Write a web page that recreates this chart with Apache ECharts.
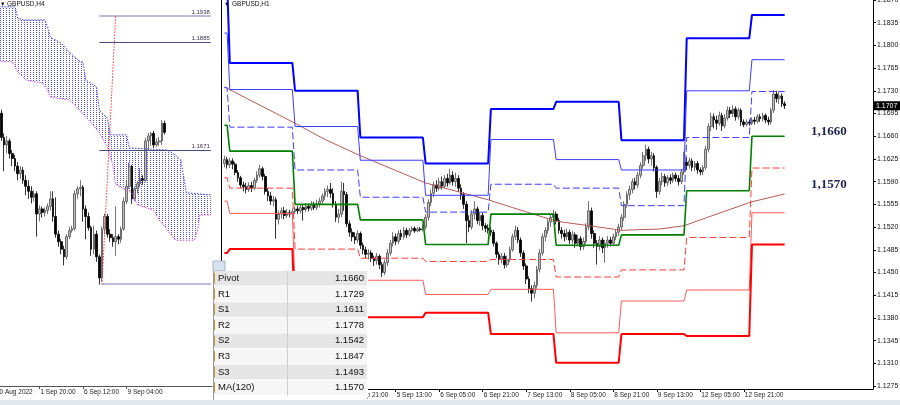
<!DOCTYPE html>
<html><head><meta charset="utf-8">
<script src="https://cdn.jsdelivr.net/npm/echarts@6/dist/echarts.min.js"></script>
<style>html,body{margin:0;padding:0;background:#fff}#c{width:900px;height:405px}</style>
</head><body><div id="c"></div>
<script>
// ================= LEFT PANEL: GBPUSD,H4 =================
const h4Slots = 78;
const h4TickIdx = [0, 14, 30, 46];
const h4TickLabels = ['30 Aug 2022', '1 Sep 20:00', '6 Sep 12:00', '9 Sep 04:00'];
// [open, close, low, high]
const h4Ohlc = [
[1.1745,1.1697,1.1690,1.1752],[1.1697,1.1682,1.1630,1.1705],
[1.1682,1.1690,1.1665,1.1700],[1.1690,1.1665,1.1655,1.1695],[1.1665,1.1655,1.1640,1.1672],[1.1655,1.1640,1.1630,1.1662],
[1.1640,1.1625,1.1612,1.1648],[1.1625,1.1632,1.1615,1.1640],[1.1632,1.1612,1.1605,1.1638],[1.1612,1.1600,1.1582,1.1622],
[1.1600,1.1590,1.1575,1.1612],[1.1590,1.1578,1.1566,1.1600],[1.1578,1.1585,1.1570,1.1592],[1.1585,1.1545,1.1500,1.1590],
[1.1545,1.1555,1.1530,1.1562],[1.1555,1.1548,1.1538,1.1560],[1.1548,1.1552,1.1540,1.1558],[1.1552,1.1560,1.1545,1.1566],
[1.1560,1.1575,1.1552,1.1590],[1.1575,1.1540,1.1530,1.1590],[1.1540,1.1505,1.1498,1.1578],[1.1505,1.1490,1.1480,1.1512],
[1.1490,1.1475,1.1465,1.1495],[1.1475,1.1460,1.1443,1.1482],[1.1460,1.1500,1.1455,1.1505],[1.1500,1.1512,1.1495,1.1520],
[1.1512,1.1516,1.1508,1.1522],[1.1516,1.1585,1.1512,1.1592],[1.1585,1.1595,1.1575,1.1600],[1.1595,1.1598,1.1580,1.1612],
[1.1598,1.1555,1.1530,1.1602],[1.1555,1.1540,1.1495,1.1562],[1.1540,1.1518,1.1512,1.1548],[1.1518,1.1475,1.1462,1.1522],
[1.1475,1.1505,1.1465,1.1522],[1.1505,1.1460,1.1450,1.1512],[1.1460,1.1418,1.1405,1.1465],[1.1418,1.1515,1.1410,1.1520],
[1.1515,1.1540,1.1505,1.1546],[1.1540,1.1505,1.1498,1.1545],[1.1505,1.1498,1.1490,1.1515],[1.1498,1.1490,1.1480,1.1505],
[1.1490,1.1500,1.1462,1.1560],[1.1500,1.1495,1.1485,1.1505],[1.1495,1.1515,1.1488,1.1520],[1.1515,1.1570,1.1512,1.1578],
[1.1570,1.1600,1.1565,1.1612],[1.1600,1.1640,1.1595,1.1647],[1.1640,1.1575,1.1565,1.1642],[1.1575,1.1595,1.1570,1.1600],
[1.1595,1.1605,1.1585,1.1610],[1.1605,1.1615,1.1598,1.1636],[1.1615,1.1612,1.1603,1.1622],[1.1612,1.1690,1.1608,1.1696],
[1.1690,1.1700,1.1672,1.1706],[1.1700,1.1705,1.1680,1.1708],[1.1705,1.1682,1.1676,1.1710],[1.1682,1.1688,1.1678,1.1695],
[1.1688,1.1690,1.1680,1.1698],[1.1690,1.1725,1.1682,1.1731],[1.1725,1.1707,1.1703,1.1730]
];
// Ichimoku cloud edges [slot, price]
const cloudTop = [[0,1.1956],[5,1.1956],[6,1.1934],[8,1.1930],[16,1.1930],[17,1.1916],[18,1.1896],[22,1.1884],
  [25,1.1866],[29,1.1847],[30,1.1847],[31,1.1811],[35,1.1797],[36,1.1751],[39,1.1735],[40,1.1702],[46,1.1702],
  [47,1.1676],[61,1.1672],[64,1.1662],[66,1.1652],[68,1.1587],[77,1.1583]];
const cloudBot = [[0,1.1847],[4,1.1847],[6,1.1827],[9,1.1811],[15,1.1805],[17,1.1791],[18,1.1777],[25,1.1771],
  [27,1.1761],[33,1.1726],[36,1.1706],[39,1.1678],[41,1.1642],[42,1.1603],[48,1.1587],[50,1.1563],[56,1.1553],
  [58,1.1533],[61,1.1513],[64,1.1493],[71,1.1493],[72,1.1509],[73,1.1543],[77,1.1543]];
const h4Levels = [1.1938, 1.1885, 1.1671, 1.1406];
const h4LevelStart = [36, 36, 36, 37];
const h4LevelLabel = [true, true, true, false];
const h4Trend = [[37, 1.1405], [42, 1.1938]];

// ================= RIGHT PANEL: GBPUSD,H1 =================
const h1Slots = 239;
const h1TickIdx = [47, 63, 79, 95, 111, 127, 143, 159, 175, 191];
const h1TickLabels = ['2 Sep 21:00','5 Sep 13:00','6 Sep 05:00','6 Sep 21:00','7 Sep 13:00','8 Sep 05:00','8 Sep 21:00','9 Sep 13:00','12 Sep 05:00','12 Sep 21:00'];
const h1Ohlc = [
[1.1618,1.1624,1.1612,1.1630],[1.1624,1.1616,1.1610,1.1628],[1.1616,1.1622,1.1611,1.1627],[1.1622,1.1617,1.1609,1.1626],
[1.1617,1.1604,1.1600,1.1620],[1.1604,1.1596,1.1590,1.1608],[1.1596,1.1585,1.1580,1.1599],[1.1585,1.1582,1.1575,1.1590],
[1.1582,1.1578,1.1572,1.1588],[1.1578,1.1584,1.1574,1.1589],[1.1584,1.1580,1.1574,1.1590],[1.1580,1.1592,1.1577,1.1596],
[1.1592,1.1600,1.1588,1.1606],[1.1600,1.1610,1.1596,1.1616],[1.1610,1.1598,1.1592,1.1613],[1.1598,1.1575,1.1570,1.1602],
[1.1575,1.1568,1.1560,1.1580],[1.1568,1.1560,1.1554,1.1574],[1.1560,1.1562,1.1552,1.1568],[1.1562,1.1532,1.1502,1.1566],
[1.1532,1.1540,1.1524,1.1546],[1.1540,1.1545,1.1533,1.1550],[1.1545,1.1538,1.1532,1.1551],[1.1538,1.1542,1.1534,1.1548],
[1.1542,1.1540,1.1535,1.1547],[1.1540,1.1544,1.1536,1.1549],[1.1544,1.1548,1.1540,1.1552],[1.1548,1.1545,1.1540,1.1553],
[1.1545,1.1550,1.1541,1.1555],[1.1550,1.1547,1.1530,1.1556],[1.1547,1.1552,1.1543,1.1557],[1.1552,1.1549,1.1544,1.1556],
[1.1549,1.1555,1.1545,1.1560],[1.1555,1.1550,1.1546,1.1559],[1.1550,1.1556,1.1546,1.1562],[1.1556,1.1560,1.1550,1.1565],
[1.1560,1.1568,1.1556,1.1572],[1.1568,1.1575,1.1562,1.1580],[1.1575,1.1578,1.1566,1.1584],[1.1578,1.1572,1.1565,1.1588],
[1.1572,1.1555,1.1550,1.1580],[1.1555,1.1535,1.1528,1.1560],[1.1535,1.1540,1.1526,1.1548],[1.1540,1.1575,1.1535,1.1590],
[1.1575,1.1570,1.1545,1.1588],[1.1570,1.1525,1.1520,1.1574],[1.1525,1.1512,1.1505,1.1530],[1.1512,1.1505,1.1498,1.1518],
[1.1505,1.1500,1.1494,1.1512],[1.1500,1.1510,1.1496,1.1515],[1.1510,1.1492,1.1486,1.1513],[1.1492,1.1485,1.1478,1.1496],
[1.1485,1.1478,1.1472,1.1490],[1.1478,1.1480,1.1470,1.1486],[1.1480,1.1472,1.1466,1.1484],[1.1472,1.1468,1.1460,1.1476],
[1.1468,1.1475,1.1462,1.1480],[1.1475,1.1462,1.1455,1.1478],[1.1462,1.1450,1.1443,1.1466],[1.1450,1.1465,1.1446,1.1470],
[1.1465,1.1480,1.1460,1.1486],[1.1480,1.1495,1.1476,1.1500],[1.1495,1.1505,1.1490,1.1512],[1.1505,1.1498,1.1492,1.1510],
[1.1498,1.1510,1.1494,1.1515],[1.1510,1.1505,1.1500,1.1516],[1.1505,1.1515,1.1501,1.1520],[1.1515,1.1508,1.1503,1.1519],
[1.1508,1.1515,1.1505,1.1519],[1.1515,1.1518,1.1512,1.1521],[1.1518,1.1514,1.1511,1.1521],[1.1514,1.1517,1.1512,1.1520],
[1.1517,1.1516,1.1513,1.1520],[1.1516,1.1520,1.1513,1.1524],[1.1520,1.1535,1.1516,1.1540],[1.1535,1.1558,1.1530,1.1563],
[1.1558,1.1572,1.1552,1.1578],[1.1572,1.1585,1.1566,1.1590],[1.1585,1.1580,1.1574,1.1592],[1.1580,1.1590,1.1576,1.1596],
[1.1590,1.1583,1.1578,1.1598],[1.1583,1.1595,1.1580,1.1600],[1.1595,1.1588,1.1582,1.1602],[1.1588,1.1600,1.1585,1.1610],
[1.1600,1.1590,1.1584,1.1606],[1.1590,1.1595,1.1582,1.1604],[1.1595,1.1580,1.1574,1.1600],[1.1580,1.1570,1.1562,1.1586],
[1.1570,1.1555,1.1548,1.1574],[1.1555,1.1530,1.1495,1.1560],[1.1530,1.1520,1.1512,1.1538],[1.1520,1.1540,1.1516,1.1546],
[1.1540,1.1548,1.1532,1.1560],[1.1548,1.1530,1.1524,1.1552],[1.1530,1.1538,1.1522,1.1544],[1.1538,1.1522,1.1515,1.1542],
[1.1522,1.1518,1.1512,1.1526],[1.1518,1.1515,1.1510,1.1524],[1.1515,1.1512,1.1506,1.1520],[1.1512,1.1495,1.1490,1.1516],
[1.1495,1.1478,1.1472,1.1498],[1.1478,1.1470,1.1462,1.1482],[1.1470,1.1475,1.1464,1.1480],[1.1475,1.1462,1.1456,1.1480],
[1.1462,1.1470,1.1458,1.1476],[1.1470,1.1485,1.1466,1.1490],[1.1485,1.1505,1.1482,1.1510],[1.1505,1.1515,1.1500,1.1522],
[1.1515,1.1500,1.1495,1.1520],[1.1500,1.1480,1.1474,1.1504],[1.1480,1.1460,1.1454,1.1484],[1.1460,1.1440,1.1432,1.1464],
[1.1440,1.1425,1.1418,1.1444],[1.1425,1.1418,1.1405,1.1430],[1.1418,1.1430,1.1410,1.1436],[1.1430,1.1455,1.1425,1.1460],
[1.1455,1.1480,1.1450,1.1486],[1.1480,1.1505,1.1476,1.1510],[1.1505,1.1515,1.1498,1.1520],[1.1515,1.1528,1.1510,1.1532],
[1.1528,1.1535,1.1520,1.1540],[1.1535,1.1540,1.1528,1.1546],[1.1540,1.1530,1.1524,1.1544],[1.1530,1.1515,1.1510,1.1534],
[1.1515,1.1510,1.1502,1.1520],[1.1510,1.1505,1.1498,1.1516],[1.1505,1.1512,1.1500,1.1518],[1.1512,1.1500,1.1494,1.1516],
[1.1500,1.1508,1.1494,1.1514],[1.1508,1.1495,1.1488,1.1512],[1.1495,1.1502,1.1490,1.1508],[1.1502,1.1490,1.1484,1.1506],
[1.1490,1.1498,1.1485,1.1504],[1.1498,1.1520,1.1494,1.1526],[1.1520,1.1545,1.1515,1.1560],[1.1545,1.1510,1.1502,1.1550],
[1.1510,1.1495,1.1488,1.1515],[1.1495,1.1490,1.1462,1.1500],[1.1490,1.1500,1.1484,1.1506],[1.1500,1.1488,1.1480,1.1504],
[1.1488,1.1495,1.1465,1.1500],[1.1495,1.1500,1.1488,1.1506],[1.1500,1.1495,1.1490,1.1505],[1.1495,1.1505,1.1492,1.1510],
[1.1505,1.1512,1.1500,1.1516],[1.1512,1.1520,1.1506,1.1525],[1.1520,1.1535,1.1515,1.1540],[1.1535,1.1555,1.1530,1.1560],
[1.1555,1.1570,1.1550,1.1575],[1.1570,1.1578,1.1562,1.1584],[1.1578,1.1590,1.1572,1.1595],[1.1590,1.1585,1.1578,1.1596],
[1.1585,1.1600,1.1580,1.1605],[1.1600,1.1615,1.1595,1.1620],[1.1615,1.1630,1.1610,1.1636],[1.1630,1.1640,1.1622,1.1647],
[1.1640,1.1625,1.1618,1.1644],[1.1625,1.1630,1.1615,1.1636],[1.1630,1.1612,1.1606,1.1634],[1.1612,1.1575,1.1565,1.1615],
[1.1575,1.1590,1.1570,1.1596],[1.1590,1.1598,1.1584,1.1604],[1.1598,1.1588,1.1582,1.1602],[1.1588,1.1596,1.1583,1.1600],
[1.1596,1.1592,1.1586,1.1601],[1.1592,1.1600,1.1588,1.1604],[1.1600,1.1595,1.1590,1.1604],[1.1595,1.1590,1.1584,1.1600],
[1.1590,1.1605,1.1586,1.1610],[1.1605,1.1620,1.1600,1.1636],[1.1620,1.1615,1.1608,1.1628],[1.1615,1.1622,1.1610,1.1627],
[1.1622,1.1612,1.1606,1.1626],[1.1612,1.1618,1.1606,1.1622],[1.1618,1.1608,1.1602,1.1622],[1.1608,1.1605,1.1600,1.1612],
[1.1605,1.1612,1.1600,1.1616],[1.1612,1.1640,1.1608,1.1645],[1.1640,1.1675,1.1635,1.1680],[1.1675,1.1690,1.1668,1.1696],
[1.1690,1.1685,1.1672,1.1695],[1.1685,1.1680,1.1670,1.1692],[1.1680,1.1692,1.1676,1.1698],[1.1692,1.1676,1.1668,1.1696],
[1.1676,1.1688,1.1672,1.1694],[1.1688,1.1700,1.1684,1.1706],[1.1700,1.1695,1.1688,1.1705],[1.1695,1.1702,1.1690,1.1708],
[1.1702,1.1690,1.1684,1.1706],[1.1690,1.1700,1.1686,1.1704],[1.1700,1.1682,1.1676,1.1703],[1.1682,1.1678,1.1674,1.1686],
[1.1678,1.1682,1.1675,1.1686],[1.1682,1.1680,1.1676,1.1686],[1.1680,1.1685,1.1677,1.1689],[1.1685,1.1683,1.1678,1.1690],
[1.1683,1.1690,1.1680,1.1694],[1.1690,1.1687,1.1682,1.1694],[1.1687,1.1692,1.1683,1.1696],[1.1692,1.1685,1.1680,1.1695],
[1.1685,1.1682,1.1677,1.1690],[1.1682,1.1700,1.1678,1.1704],[1.1700,1.1725,1.1696,1.1731],[1.1725,1.1718,1.1712,1.1730],
[1.1718,1.1722,1.1710,1.1730],[1.1722,1.1710,1.1705,1.1726],[1.1710,1.1707,1.1702,1.1714]
];
// daily pivot levels (31 Aug, 1 Sep, 2 Sep, 5 Sep, 6 Sep, 7 Sep, 8 Sep, 9 Sep, 12 Sep, 13 Sep)
const dayStart = [0, 2, 26, 50, 74, 98, 122, 146, 170, 194];
const dayEnd   = [1, 25, 49, 73, 97, 121, 145, 169, 193, 206];
const R3 = [1.1900, 1.1773, 1.1730, 1.1658, 1.1618, 1.1702, 1.1713, 1.1654, 1.1811, 1.1847];
const R2 = [1.1819, 1.1732, 1.1675, 1.1623, 1.1569, 1.1655, 1.1624, 1.1608, 1.1730, 1.1778];
const R1 = [1.1735, 1.1674, 1.1608, 1.1566, 1.1543, 1.1586, 1.1580, 1.1553, 1.1658, 1.1729];
const PP = [1.1677, 1.1637, 1.1555, 1.1531, 1.1493, 1.1540, 1.1492, 1.1508, 1.1576, 1.1660];
const S1 = [1.1596, 1.1580, 1.1486, 1.1472, 1.1467, 1.1470, 1.1443, 1.1454, 1.1504, 1.1611];
const S2 = [1.1560, 1.1541, 1.1430, 1.1438, 1.1416, 1.1424, 1.1357, 1.1406, 1.1423, 1.1542];
const S3 = [1.1480, 1.1486, 1.1378, 1.1381, 1.1388, 1.1355, 1.1311, 1.1355, 1.1352, 1.1493];
const ma120 = [[0,1.1736],[26,1.1680],[37,1.1655],[50,1.1630],[74,1.1588],[97,1.1562],[106,1.1550],[122,1.1529],
  [136,1.1521],[146,1.1515],[160,1.1517],[169,1.1522],[181,1.1540],[194,1.1559],[206,1.1571]];
const tableLabels = ['Pivot', 'R1', 'S1', 'R2', 'S2', 'R3', 'S3', 'MA(120)'];
const tableValues = ['1.1660', '1.1729', '1.1611', '1.1778', '1.1542', '1.1847', '1.1493', '1.1570'];
const noteLabels = ['1,1660', '1,1570'];
const yMin = 1.1275, yMax = 1.1870, yStep = 0.0035;

// ---------------- build ----------------
const FONT = 'Liberation Sans';
function cats(n, idx, labels, firstShift) {
  const a = [];
  for (let i = 0; i < n; i++) {
    const k = idx.indexOf(i);
    if (k < 0) a.push('#' + i);
    else if (i === 0 && firstShift) a.push({ value: labels[k], textStyle: { align: 'left', padding: [0, 0, 0, firstShift] } });
    else a.push(labels[k]);
  }
  return a;
}
function steps(levels) {
  const d = [];
  for (let i = 0; i < levels.length; i++) { d.push([dayStart[i], levels[i]]); d.push([dayEnd[i], levels[i]]); }
  return d;
}
const pc = document.createElement('canvas'); pc.width = 3; pc.height = 2;
const pg = pc.getContext('2d'); pg.fillStyle = '#4a4aff'; pg.fillRect(0, 0, 1, 1);
const cloudPattern = { image: pc, repeat: 'repeat' };

function lineSeries(data, color, width, type, xi) {
  return { type: 'line', xAxisIndex: xi, yAxisIndex: xi, data: data, symbol: 'none', showSymbol: false,
    lineStyle: { color: color, width: width, type: type }, z: 4, silent: true, animation: false };
}
const candleStyle = { color: '#bdbdbd', color0: '#000', borderColor: '#505050', borderColor0: '#000', borderWidth: 0.8 };

const chart = echarts.init(document.getElementById('c'), null, { renderer: 'canvas' });
const h4Marks = h4Levels.map((v, i) => [
  { coord: [h4LevelStart[i], v], lineStyle: { color: (i === 0 || i === 3) ? '#a4a4cc' : '#4a4a8a', width: (i === 0 || i === 3) ? 1.6 : 1, type: 'solid' },
    label: { show: h4LevelLabel[i], formatter: v.toFixed(4), position: 'insideEndTop', distance: 1, fontSize: 6, color: '#303050', fontFamily: FONT } },
  { coord: [h4Slots - 1, v] }
]);
h4Marks.push([{ coord: h4Trend[0], lineStyle: { color: '#ff3030', width: 1, type: [1.5, 1.5] }, label: { show: false } }, { coord: h4Trend[1] }]);

const option = {
  animation: false,
  grid: [
    { left: 0, top: 0, width: 212.2, height: 386, outerBoundsMode: 'none', containLabel: false },
    { left: 223, top: 0, width: 650, height: 386, outerBoundsMode: 'none', containLabel: false }
  ],
  xAxis: [
    { type: 'category', gridIndex: 0, data: cats(h4Slots, h4TickIdx, h4TickLabels, -5.5), boundaryGap: true,
      axisLine: { show: true, lineStyle: { color: '#555', width: 1 } },
      axisTick: { show: true, alignWithLabel: true, length: 3, interval: (i) => h4TickIdx.includes(i) && i > 0, lineStyle: { color: '#555' } },
      axisLabel: { show: true, interval: (i) => h4TickIdx.includes(i), align: 'left', margin: 3, fontSize: 6.5, color: '#222', fontFamily: FONT, padding: [0, 0, 0, 1] },
      splitLine: { show: false } },
    { type: 'category', gridIndex: 1, data: cats(h1Slots, h1TickIdx, h1TickLabels, 0), boundaryGap: true, offset: 3,
      axisLine: { show: true, lineStyle: { color: '#000', width: 1 } },
      axisTick: { show: true, alignWithLabel: true, length: 3, interval: (i) => h1TickIdx.includes(i), lineStyle: { color: '#000' } },
      axisLabel: { show: true, interval: (i) => h1TickIdx.includes(i), align: 'left', margin: 3, fontSize: 6.5, color: '#222', fontFamily: FONT, padding: [0, 0, 0, 1] },
      splitLine: { show: false } }
  ],
  yAxis: [
    { type: 'value', gridIndex: 0, min: 1.12037, max: 1.19696, show: false, splitLine: { show: false } },
    { type: 'value', gridIndex: 1, position: 'right', min: yMin, max: yMax, interval: yStep, scale: true,
      axisLine: { show: true, lineStyle: { color: '#000', width: 1 } },
      axisTick: { show: true, length: 3, lineStyle: { color: '#000' } },
      axisLabel: { show: true, fontSize: 7, color: '#111', margin: 4, fontFamily: FONT, formatter: (v) => v.toFixed(4) },
      splitLine: { show: false } }
  ],
  series: [
    // ---- left: cloud
    { type: 'custom', xAxisIndex: 0, yAxisIndex: 0, data: [[0, cloudTop[0][1]]], z: 1, silent: true,
      renderItem: function (params, api) {
        const pts = [];
        cloudTop.forEach((p) => pts.push(api.coord(p)));
        for (let i = cloudBot.length - 1; i >= 0; i--) pts.push(api.coord(cloudBot[i]));
        pts[0][0] = 0; pts[pts.length - 1][0] = 0;
        return { type: 'polygon', shape: { points: pts }, style: { fill: cloudPattern, stroke: null } };
      } },
    lineSeries(cloudTop, '#3a3aff', 1, [1.5, 1.5], 0),
    lineSeries(cloudBot, '#e040e8', 1, [1.5, 1.5], 0),
    { type: 'line', xAxisIndex: 0, yAxisIndex: 0, data: [], symbol: 'none', silent: true,
      markLine: { symbol: ['none', 'none'], silent: true, animation: false, data: h4Marks } },
    { type: 'candlestick', xAxisIndex: 0, yAxisIndex: 0, data: h4Ohlc, barWidth: 2.2, z: 3, silent: true, itemStyle: candleStyle },
    // ---- right: candles + levels
    { type: 'candlestick', xAxisIndex: 1, yAxisIndex: 1, data: h1Ohlc, barWidth: 2.2, z: 2, silent: true, itemStyle: candleStyle },
    lineSeries(ma120, '#b85a55', 1, 'solid', 1),
    lineSeries(steps(R3), '#0000ff', 2, 'solid', 1),
    lineSeries(steps(R2), '#3c3cff', 1, 'solid', 1),
    lineSeries(steps(R1), '#3c3cff', 1, [7, 3], 1),
    lineSeries(steps(PP), '#008000', 1.6, 'solid', 1),
    lineSeries(steps(S1), '#ff3c3c', 1, [7, 3], 1),
    lineSeries(steps(S2), '#ff5a5a', 1, 'solid', 1),
    lineSeries(steps(S3), '#ff0000', 2, 'solid', 1)
  ]
};
chart.setOption(option);

// ---------- overlay: titles, frame lines, price box, notes, table ----------
const g = [];
const lastClose = h1Ohlc[h1Ohlc.length - 1][1];
const priceY = chart.convertToPixel({ yAxisIndex: 1 }, lastClose);
g.push({ type: 'rect', shape: { x: 873, y: priceY - 4.5, width: 27, height: 9 }, style: { fill: '#000' }, z: 70 });
g.push({ type: 'text', x: 876, y: priceY, style: { text: lastClose.toFixed(4), fontSize: 7, fill: '#fff', fontFamily: FONT, verticalAlign: 'middle' }, z: 71 });
g.push({ type: 'rect', shape: { x: 0, y: 400, width: 900, height: 5 }, style: { fill: '#e4e9f0' }, z: 50 });
g.push({ type: 'line', shape: { x1: 221.5, y1: 0, x2: 221.5, y2: 389 }, style: { stroke: '#000', lineWidth: 1 }, z: 50 });
g.push({ type: 'line', shape: { x1: 873.5, y1: 385, x2: 873.5, y2: 389.5 }, style: { stroke: '#000', lineWidth: 1 }, z: 50 });
g.push({ type: 'text', x: 1, y: 1, style: { text: '▾', fontSize: 7, fill: '#222', fontFamily: FONT }, z: 50 });
g.push({ type: 'text', x: 7, y: 1, style: { text: 'GBPUSD,H4', fontSize: 6.5, fill: '#111', fontFamily: FONT }, z: 50 });
g.push({ type: 'text', x: 224, y: 1.5, style: { text: '▼', fontSize: 5.5, fill: '#111', fontFamily: FONT }, z: 50 });
g.push({ type: 'text', x: 232, y: 1, style: { text: 'GBPUSD,H1', fontSize: 6.5, fill: '#111', fontFamily: FONT }, z: 50 });
const noteY = [132, 185];
noteLabels.forEach((t, i) => g.push({ type: 'text', x: 811, y: noteY[i], style: { text: t, fontSize: 13, fontWeight: 'bold',
  fill: '#1e2352', fontFamily: 'Liberation Serif', verticalAlign: 'middle' }, z: 50 }));
// table
const tx = 213, ty = 271, tw = 155, rh = 15.6;
g.push({ type: 'rect', shape: { x: tx, y: 261, width: 12, height: 10 }, style: { fill: '#d8e2ef', stroke: '#a8b4c4', lineWidth: 1 }, z: 60 });
g.push({ type: 'rect', shape: { x: tx, y: ty, width: tw, height: rh * tableLabels.length + 2 }, style: { fill: '#ffffff' }, z: 60 });
tableLabels.forEach((lab, i) => {
  const y = ty + i * rh;
  g.push({ type: 'rect', shape: { x: tx + 1, y: y, width: tw - 2, height: rh - 1 }, style: { fill: i % 2 === 0 ? '#e6e6e6' : '#f6f6f6' }, z: 61 });
  g.push({ type: 'rect', shape: { x: tx + 0.5, y: y + 2, width: 1.5, height: rh - 5 }, style: { fill: '#c8952e' }, z: 62 });
  g.push({ type: 'text', x: tx + 5, y: y + rh / 2 - 0.5, style: { text: lab, fontSize: 9.5, fill: '#111', fontFamily: FONT, verticalAlign: 'middle' }, z: 62 });
  g.push({ type: 'text', x: tx + 151, y: y + rh / 2 - 0.5, style: { text: tableValues[i], fontSize: 9.5, fill: '#111', fontFamily: FONT, verticalAlign: 'middle', align: 'right' }, z: 62 });
});
g.push({ type: 'line', shape: { x1: 287.5, y1: ty, x2: 287.5, y2: ty + rh * 8 }, style: { stroke: '#cfcfcf', lineWidth: 1 }, z: 63 });
g.push({ type: 'line', shape: { x1: tx + 0.5, y1: ty, x2: tx + 0.5, y2: 400 }, style: { stroke: '#9a9a9a', lineWidth: 1 }, z: 63 });
chart.setOption({ graphic: g });
</script></body></html>
